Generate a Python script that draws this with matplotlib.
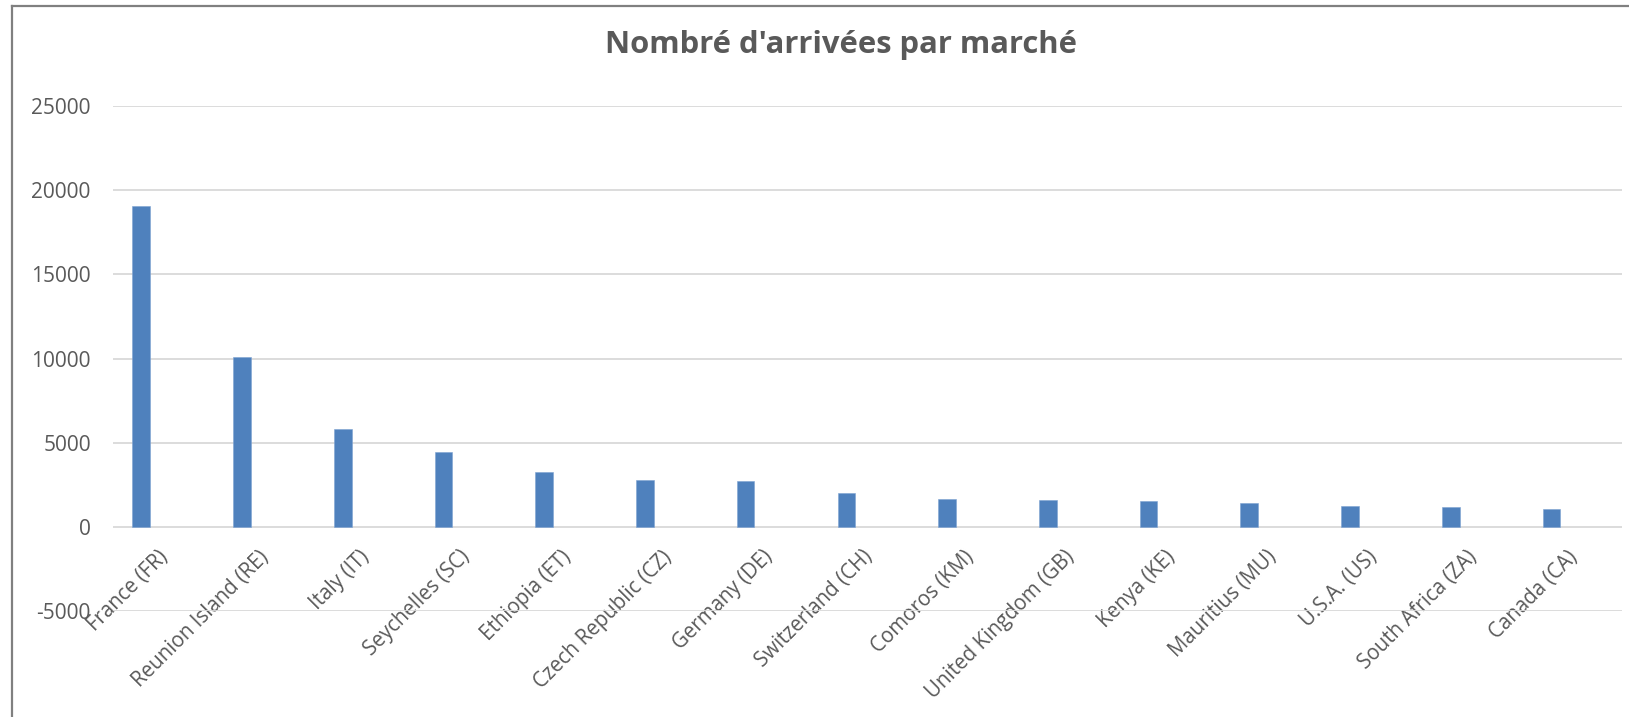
import matplotlib
matplotlib.use("Agg")
import matplotlib.pyplot as plt
import matplotlib.transforms as mtransforms
from matplotlib.lines import Line2D
import numpy as np

markets = ["France (FR)", "Reunion Island (RE)", "Italy (IT)", "Seychelles (SC)",
           "Ethiopia (ET)", "Czech Republic (CZ)", "Germany (DE)", "Switzerland (CH)",
           "Comoros (KM)", "United Kingdom (GB)", "Kenya (KE)", "Mauritius (MU)",
           "U.S.A. (US)", "South Africa (ZA)", "Canada (CA)"]
arrivals = [19050, 10110, 5820, 4470, 3265, 2770, 2730, 2025,
            1670, 1630, 1570, 1450, 1270, 1190, 1050]
y_ticks = [-5000, 0, 5000, 10000, 15000, 20000, 25000]

title = "Nombré d'arrivées par marché"
text_col = "#595959"
grid_col = "#d9d9d9"
bar_col = "#4f81bd"

plt.rcParams['font.family'] = ['Open Sans', 'DejaVu Sans']

fig = plt.figure(figsize=(16.29, 7.17), dpi=100)
ax = fig.add_axes([0.0694, 0.1473, 0.9263, 0.7053])

x = np.arange(len(markets))
ax.bar(x, arrivals, width=0.175, color=bar_col, edgecolor="#7ea3d2", linewidth=0.4, zorder=3)

ax.set_xlim(-0.28, len(markets) - 0.3)
ax.set_ylim(-5000, 25000)
ax.set_yticks(y_ticks)
ax.set_yticklabels([str(v) for v in y_ticks])
ax.grid(axis='y', color=grid_col, linewidth=1.3, zorder=0)
ax.grid(axis='x', visible=False)

# category labels hang under the zero line, as Excel does
ax.spines['bottom'].set_position(('data', 0))
for s in ax.spines.values():
    s.set_visible(False)
ax.set_xticks(x)
ax.set_xticklabels(markets, rotation=45, ha='right')
ax.tick_params(axis='x', length=0, pad=14, labelsize=14.8, labelcolor=text_col)
ax.tick_params(axis='y', length=0, pad=16, labelsize=15, labelcolor=text_col)
shift = mtransforms.ScaledTranslation(0.31, 0, fig.dpi_scale_trans)
for lab in ax.get_xticklabels():
    lab.set_transform(lab.get_transform() + shift)

fig.text(0.516, 0.937, title, ha='center', va='center', fontsize=22.3,
         fontweight='bold', color=text_col)

# chart frame (top and left edges visible in the crop)
fig.add_artist(Line2D([12 / 1629, 1], [1 - 6 / 717] * 2, transform=fig.transFigure,
                      color="#808080", linewidth=1.6))
fig.add_artist(Line2D([12 / 1629] * 2, [0, 1 - 6 / 717], transform=fig.transFigure,
                      color="#808080", linewidth=1.6))

fig.savefig("out.png", dpi=100, facecolor="white")
